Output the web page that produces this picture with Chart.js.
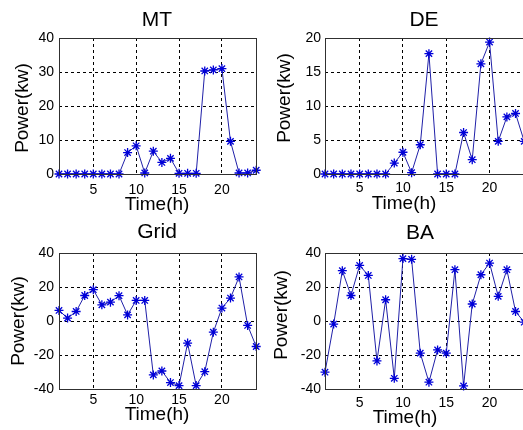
<!DOCTYPE html>
<html>
<head>
<meta charset="utf-8">
<script src="https://cdn.jsdelivr.net/npm/chart.js@4"></script>
<style>
  html, body { margin: 0; padding: 0; background: #fff; }
  body { width: 523px; height: 430px; overflow: hidden; position: relative; }
  canvas { position: absolute; }
</style>
</head>
<body>
<canvas id="mt" width="262" height="215" style="left:0;top:0"></canvas>
<canvas id="de" width="268" height="215" style="left:262px;top:0"></canvas>
<canvas id="grid" width="262" height="215" style="left:0;top:215px"></canvas>
<canvas id="ba" width="268" height="215" style="left:262px;top:215px"></canvas>
<script>
// hours 1..24
const hours = [1, 2, 3, 4, 5, 6, 7, 8, 9, 10, 11, 12, 13, 14, 15, 16, 17, 18, 19, 20, 21, 22, 23, 24];
const xTicks = [5, 10, 15, 20];

// power output per hour (kW)
const mtPower = [0, 0, 0, 0, 0, 0, 0, 0, 6.3, 8.3, 0.3, 6.7, 3.4, 4.6, 0.2, 0.2, 0.2, 30.3, 30.6, 31, 9.6, 0.3, 0.3, 1.1];
const dePower = [0, 0, 0, 0, 0, 0, 0, 0, 1.6, 3.2, 0.2, 4.3, 17.7, 0, 0, 0, 6.1, 2.1, 16.2, 19.4, 4.8, 8.4, 8.9, 4.8];
const gridPower = [6.2, 1.7, 5.6, 15, 18.4, 9.5, 11.1, 14.9, 3.6, 12.1, 12.1, -31.7, -29.4, -36.2, -38, -13, -38, -29.8, -6.6, 7.6, 13.5, 25.9, -2.6, -15];
const baPower = [-30.1, -1.8, 29.6, 15, 32.7, 26.8, -23.5, 12.5, -33.7, 36.7, 36.3, -18.9, -36, -17, -18.9, 30.2, -38.2, 10, 27.2, 34.1, 14.5, 30.2, 5.6, -0.7];

// y tick labels
const mtTicks = [0, 10, 20, 30, 40];
const deTicks = [0, 5, 10, 15, 20];
const baTicks = [-40, -20, 0, 20, 40];

Chart.defaults.font.family = '"Liberation Sans", Arial, sans-serif';
Chart.defaults.color = '#000';

// axes box + title/xlabel/ylabel, matlab style
const matlabFrame = {
  id: 'matlabFrame',
  afterDraw(chart, args, opts) {
    const {ctx, chartArea: a} = chart;
    ctx.save();
    ctx.strokeStyle = '#303030';
    ctx.lineWidth = 1;
    ctx.strokeRect(Math.round(a.left) + 0.5, Math.round(a.top) + 0.5, Math.round(a.width), Math.round(a.height));
    ctx.fillStyle = '#000';
    ctx.textAlign = 'center';
    ctx.textBaseline = 'middle';
    ctx.font = '21px "Liberation Sans", Arial, sans-serif';
    ctx.fillText(opts.title, opts.titleAt[0], opts.titleAt[1]);
    ctx.font = '19px "Liberation Sans", Arial, sans-serif';
    ctx.fillText('Time(h)', opts.xlabelAt[0], opts.xlabelAt[1]);
    ctx.translate(opts.ylabelAt[0], opts.ylabelAt[1]);
    ctx.rotate(-Math.PI / 2);
    ctx.fillText('Power(kw)', 0, 0);
    ctx.restore();
  }
};

function makePanel(id, values, yTicks, geo, text) {
  return new Chart(document.getElementById(id), {
    type: 'line',
    data: {
      datasets: [{
        data: hours.map((h, i) => ({x: h, y: values[i]})),
        borderColor: '#2020a8',
        borderWidth: 1,
        pointStyle: 'star',
        pointRadius: 4.5,
        pointBorderColor: '#0000d8',
        pointBackgroundColor: '#0000d8',
        pointBorderWidth: 1.3,
        tension: 0,
        clip: false
      }]
    },
    options: {
      responsive: false,
      animation: false,
      layout: { padding: { left: 0, top: 38, right: geo.right, bottom: 0 } },
      plugins: {
        legend: { display: false },
        tooltip: { enabled: false },
        matlabFrame: text
      },
      scales: {
        x: {
          type: 'linear',
          min: 1,
          max: 24,
          afterBuildTicks: s => { s.ticks = xTicks.map(v => ({value: v})); },
          afterFit: s => { s.height = 41; },
          ticks: { font: { size: 14 }, padding: geo.xPad, maxRotation: 0 },
          grid: { color: '#000', lineWidth: 1, drawTicks: false },
          border: { display: false, dash: [3, 3] }
        },
        y: {
          min: yTicks[0],
          max: yTicks[yTicks.length - 1],
          afterBuildTicks: s => { s.ticks = yTicks.map(v => ({value: v})); },
          afterFit: s => { s.width = geo.left; },
          ticks: { font: { size: 14 }, padding: geo.yPad },
          grid: { color: '#000', lineWidth: 1, drawTicks: false },
          border: { display: false, dash: [3, 3] }
        }
      }
    },
    plugins: [matlabFrame]
  });
}

makePanel('mt', mtPower, mtTicks,
  { left: 59, right: 4, xPad: 8, yPad: 5 },
  { title: 'MT', titleAt: [157, 20], xlabelAt: [157, 205], ylabelAt: [23, 108] });

makePanel('de', dePower, deTicks,
  { left: 63, right: 5.6, xPad: 6, yPad: 4 },
  { title: 'DE', titleAt: [162, 20], xlabelAt: [142, 204], ylabelAt: [23, 98] });

makePanel('grid', gridPower, baTicks,
  { left: 59, right: 4, xPad: 3, yPad: 5 },
  { title: 'Grid', titleAt: [157, 17], xlabelAt: [157, 200], ylabelAt: [19, 106] });

makePanel('ba', baPower, baTicks,
  { left: 63, right: 5.6, xPad: 6, yPad: 4 },
  { title: 'BA', titleAt: [158, 18], xlabelAt: [143, 203], ylabelAt: [20, 100] });
</script>
</body>
</html>
